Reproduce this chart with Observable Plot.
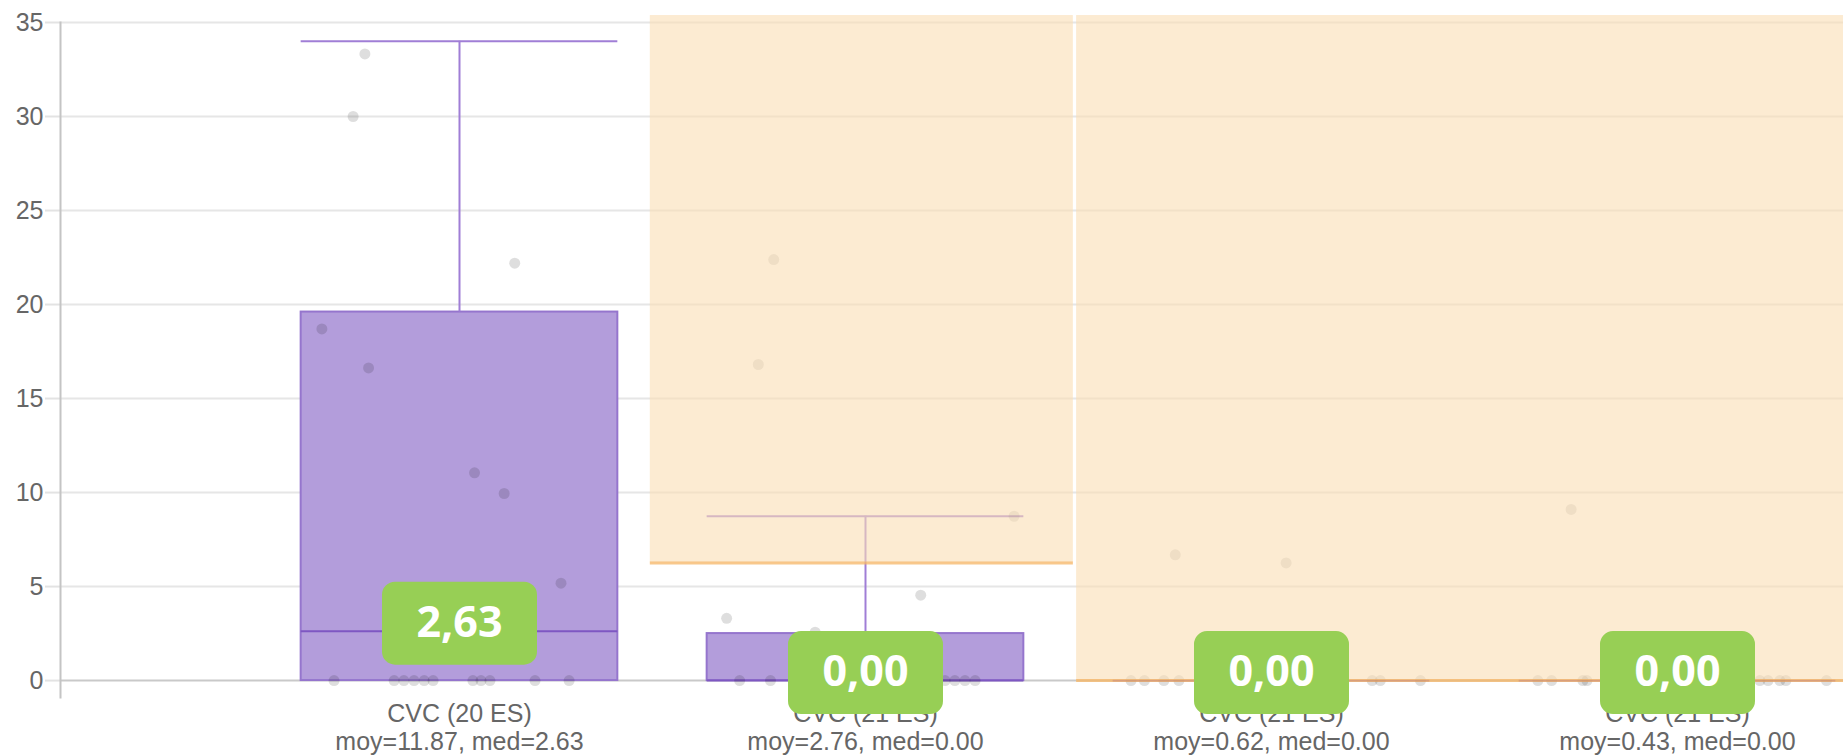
<!DOCTYPE html>
<html>
<head>
<meta charset="utf-8">
<script src="https://cdn.jsdelivr.net/npm/d3@7"></script>
<script src="https://cdn.jsdelivr.net/npm/@observablehq/plot@0.6"></script>
<style>
  html, body { margin: 0; padding: 0; background: #fff; }
  #chart svg { display: block; }
</style>
</head>
<body>
<div id="chart"></div>
<script>
// ---- data ----
const categories   = ["CVC", "CVC", "CVC", "CVC"];
const esCounts     = [20, 21, 21, 21];
const means        = [11.87, 2.76, 0.62, 0.43];
const medians      = [2.63, 0, 0, 0];
const q1s          = [0, 0, 0, 0];
const q3s          = [19.6, 2.5, 0, 0];
const whiskerHighs = [34.0, 8.74, 0, 0];
const yTicks       = [0, 5, 10, 15, 20, 25, 30, 35];

// individual observations: category index, value, horizontal jitter within the category
const pointCat = [
  0,0,0,0,0,0,0,0,0,0,0,0,0,0,0,0,0,0,0,
  1,1,1,1,1,1,1,1,1,1,1,1,
  2,2,2,2,2,2,2,2,2,2,
  3,3,3,3,3,3,3,3,3,3
];
const pointValue = [
  33.33, 30.0, 22.2, 18.7, 16.63, 11.05, 9.95, 5.18, 0,0,0,0,0,0,0,0,0,0,0,
  22.39, 16.81, 8.74, 4.54, 3.31, 2.57, 0,0,0,0,0,0,
  6.69, 6.26, 0,0,0,0,0,0,0,0,
  9.1, 0,0,0,0,0,0,0,0,0
];
const pointJitter = [
  -0.233, -0.262, 0.136, -0.339, -0.224, 0.037, 0.110, 0.250,
  -0.309, -0.161, -0.137, -0.112, -0.087, -0.065, 0.033, 0.053, 0.075, 0.186, 0.270,
  -0.226, -0.264, 0.366, 0.136, -0.342, -0.124,
  -0.310, -0.234, 0.196, 0.220, 0.245, 0.270,
  -0.237, 0.036,
  -0.346, -0.313, -0.265, -0.228, -0.165, 0.248, 0.268, 0.367,
  -0.262,
  -0.344, -0.310, -0.233, -0.223, 0.203, 0.223, 0.252, 0.267, 0.367
];

// highlighted (shaded) zones
const zoneFrom = [0.47, 1.52];
const zoneTo   = [1.512, 3.5];
const zoneLow  = [6.26, 0];
const zoneHigh = [35.37, 35.37];

// ---- tables built from the arrays ----
const boxes = categories.map((c, i) => ({
  i, cat: c, es: esCounts[i], mean: means[i], median: medians[i],
  q1: q1s[i], q3: q3s[i], hi: whiskerHighs[i]
}));
const points = pointValue.map((v, k) => ({ x: pointCat[k] + pointJitter[k], v }));
const zones = zoneFrom.map((f, k) => ({ from: f, to: zoneTo[k], low: zoneLow[k], high: zoneHigh[k] }));

const boxHalf = 0.39;
const purpleFill = "#b39ddb", purpleStroke = "#9575cd", purpleMedian = "#7e57c2", purpleWhisker = "#a07ed6";

// rounded badge symbol (fixed pixel size)
const badge = {
  draw(ctx) {
    const w = 155, h = 83, r = 13;
    const x0 = -w / 2, x1 = w / 2, y0 = -h / 2, y1 = h / 2;
    ctx.moveTo(x0 + r, y0);
    ctx.lineTo(x1 - r, y0);
    ctx.arcTo(x1, y0, x1, y0 + r, r);
    ctx.lineTo(x1, y1 - r);
    ctx.arcTo(x1, y1, x1 - r, y1, r);
    ctx.lineTo(x0 + r, y1);
    ctx.arcTo(x0, y1, x0, y1 - r, r);
    ctx.lineTo(x0, y0 + r);
    ctx.arcTo(x0, y0, x0 + r, y0, r);
    ctx.closePath();
  }
};

const fmt = d3.format(".2f");

const chart = Plot.plot({
  width: 1843,
  height: 755,
  marginTop: 22,
  marginBottom: 58,
  marginLeft: 60,
  marginRight: 0,
  style: { fontFamily: "'Helvetica Neue', Helvetica, 'Liberation Sans', Arial, sans-serif", background: "#fff" },
  x: { type: "linear", domain: [-0.5, 3.5], range: [256, 1880], axis: null },
  y: { domain: [-0.9, 35], axis: null },
  marks: [
    Plot.gridY({ ticks: yTicks.filter(t => t > 0), stroke: "#e6e6e6", strokeOpacity: 1, strokeWidth: 2 }),
    Plot.axisY({ ticks: yTicks, tickSize: 15, tickPadding: 2, fontSize: 25, fill: "#666", stroke: "#e3e3e3", strokeWidth: 2 }),
    Plot.ruleY([0], { stroke: "#c9c9c9", strokeWidth: 2 }),
    Plot.frame({ anchor: "left", stroke: "#c4c4c4", strokeWidth: 2 }),
    // boxes
    Plot.rect(boxes, { x1: d => d.i - boxHalf, x2: d => d.i + boxHalf, y1: "q1", y2: "q3",
      fill: purpleFill, stroke: purpleStroke, strokeWidth: 2 }),
    // whiskers
    Plot.ruleX(boxes.filter(d => d.hi > d.q3), { x: "i", y1: "q3", y2: "hi", stroke: purpleWhisker, strokeWidth: 2 }),
    Plot.ruleY(boxes.filter(d => d.hi > d.q3), { y: "hi", x1: d => d.i - boxHalf, x2: d => d.i + boxHalf,
      stroke: purpleWhisker, strokeWidth: 2 }),
    // medians
    Plot.ruleY(boxes, { y: "median", x1: d => d.i - boxHalf, x2: d => d.i + boxHalf, stroke: purpleMedian, strokeWidth: 2 }),
    // observations
    Plot.dot(points, { x: "x", y: "v", r: 5.5, fill: "#000", fillOpacity: 0.13 }),
    // shaded zones
    Plot.rect(zones, { x1: "from", x2: "to", y1: "low", y2: "high", fill: "rgb(250,222,180)", fillOpacity: 0.6 }),
    Plot.ruleY(zones, { y: "low", x1: "from", x2: "to", stroke: "#f5b565", strokeOpacity: 0.75, strokeWidth: 3 }),
    // category labels
    Plot.text(boxes, {
      x: "i",
      text: d => `${d.cat} (${d.es} ES)\nmoy=${fmt(d.mean)}, med=${fmt(d.median)}`,
      frameAnchor: "bottom", lineAnchor: "top", dy: 4, lineHeight: 1.14,
      fontSize: 25, fill: "#666"
    }),
    // median badges
    Plot.dot(boxes, { x: "i", y: "median", symbol: badge, r: 10, fill: "#97cf55", stroke: null, dy: -8 }),
    Plot.text(boxes, { x: "i", y: "median", dy: -8, text: d => fmt(d.median).replace(".", ","),
      fill: "#fff", fontSize: 43, fontWeight: "bold", fontFamily: "'Open Sans', sans-serif" })
  ]
});
document.getElementById("chart").appendChild(chart);
</script>
</body>
</html>
